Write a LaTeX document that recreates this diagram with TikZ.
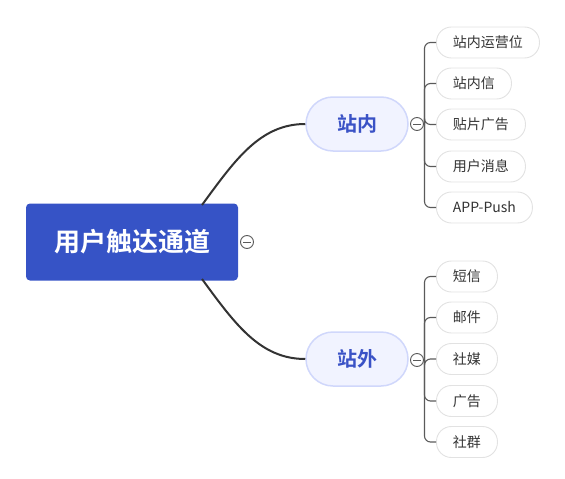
\documentclass[tikz,border=0pt]{standalone}
\usepackage{fontspec}
\setmainfont{Noto Sans CJK SC}[BoldFont={Noto Sans CJK SC Bold}]
\definecolor{rootblue}{HTML}{3653C6}
\definecolor{subfill}{HTML}{F1F3FF}
\definecolor{subborder}{HTML}{D0D7FB}
\definecolor{subtext}{HTML}{3A52C6}
\definecolor{leafborder}{HTML}{E2E2E2}
\definecolor{leaftext}{HTML}{333333}
\definecolor{linecol}{HTML}{333333}
\definecolor{brackcol}{HTML}{5A5A5A}
\begin{document}
\begin{tikzpicture}[x=1pt,y=-1pt,
  rootbox/.style={draw=none,fill=rootblue,rounded corners=4pt,minimum width=212pt,minimum height=77pt,
    text=white,font=\fontsize{26}{26}\selectfont\bfseries,inner sep=0pt},
  subbox/.style={draw=subborder,line width=1.5pt,fill=subfill,rounded corners=27pt,minimum width=102pt,minimum height=54pt,
    text=subtext,font=\fontsize{20}{20}\selectfont\bfseries,inner sep=0pt},
  leafbox/.style={draw=leafborder,line width=0.9pt,fill=white,rounded corners=15pt,minimum height=31pt,
    inner xsep=16.5pt,inner ysep=0pt,text=leaftext,font=\fontsize{14}{14}\selectfont,anchor=west},
  toggle/.style={circle,draw=brackcol,line width=0.9pt,fill=white,minimum size=13pt,inner sep=0pt,
    path picture={\draw[brackcol,line width=0.9pt] ([xshift=-4pt]path picture bounding box.center) -- ([xshift=4pt]path picture bounding box.center);}},
  mainline/.style={draw=linecol,line width=2pt},
  brack/.style={draw=brackcol,line width=1.1pt,rounded corners=6pt}
]
\useasboundingbox (0,0) rectangle (565,479);

\node[rootbox] (root) at (132,242) {用户触达通道};
\node[toggle] (rt) at (247,242) {};

\node[subbox] (in) at (357,124) {站内};
\node[subbox] (out) at (357,359) {站外};
\node[toggle] (tin) at (417,124) {};
\node[toggle] (tout) at (417,360) {};

\coordinate (rtop) at (202,205);
\coordinate (rbot) at (202,279);

\draw[mainline] (rtop) .. controls (235,160) and (260,124) .. (in.west);
\draw[mainline] (rbot) .. controls (235,324) and (260,359) .. (out.west);

% inside leaves
\node[leafbox] (a1) at (436,42.5) {站内运营位};
\node[leafbox] (a2) at (436,83.5) {站内信};
\node[leafbox] (a3) at (436,124.5) {贴片广告};
\node[leafbox] (a4) at (436,166.5) {用户消息};
\node[leafbox] (a5) at (436,207.5) {APP-Push};

% outside leaves
\node[leafbox] (b1) at (436,276.5) {短信};
\node[leafbox] (b2) at (436,317.5) {邮件};
\node[leafbox] (b3) at (436,359) {社媒};
\node[leafbox] (b4) at (436,401) {广告};
\node[leafbox] (b5) at (436,442) {社群};

\coordinate (hin) at (424.5,124.5);
\coordinate (hout) at (424.5,359.5);

\draw[brack] (tin.east) -- (hin);
\foreach \n in {a1,a2,a3,a4,a5} \draw[brack] (hin) |- (\n.west);
\draw[brack] (tout.east) -- (hout);
\foreach \n in {b1,b2,b3,b4,b5} \draw[brack] (hout) |- (\n.west);
\end{tikzpicture}
\end{document}
